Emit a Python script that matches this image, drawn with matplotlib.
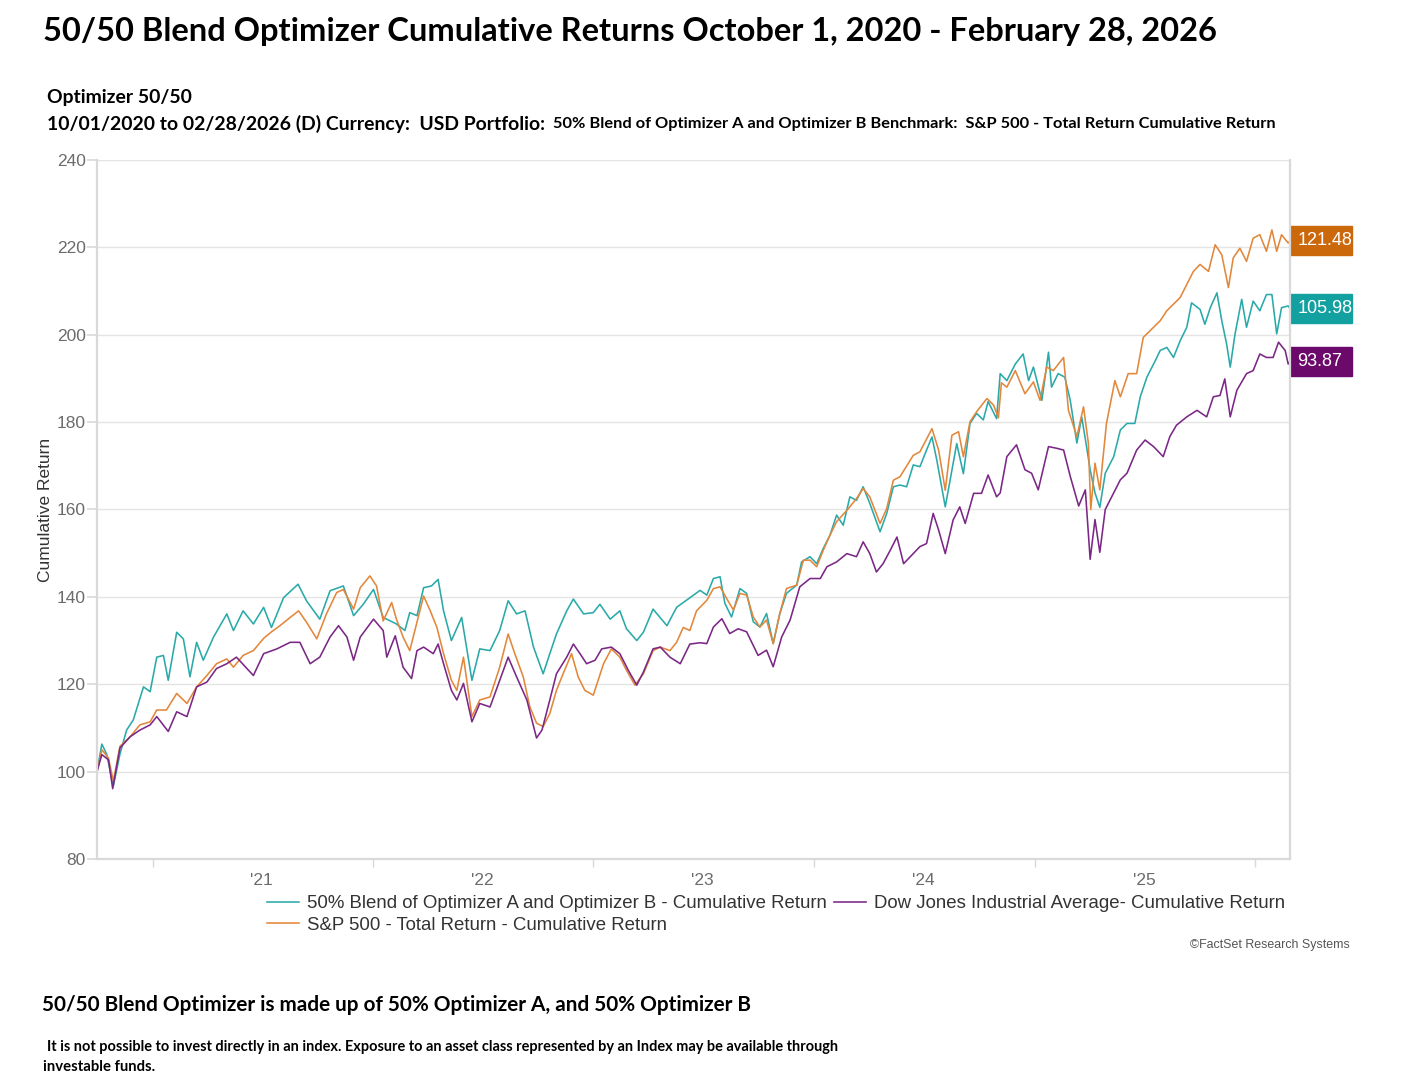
import matplotlib
matplotlib.use("Agg")
import matplotlib.pyplot as plt
import matplotlib.dates as mdates
import matplotlib.transforms as mtransforms
from matplotlib.patches import Rectangle
import numpy as np

# values, days counted from 10/01/2020
start = np.datetime64("2020-10-01")

blend_days = [0, 8, 16, 27, 38, 49, 60, 77, 88, 99, 110, 118, 132, 143, 154, 165, 176, 193, 215, 226,
              242, 259, 276, 289, 309, 333, 347, 369, 386, 408, 425, 441, 458, 474, 496, 510, 518, 530,
              541, 554, 565, 574, 587, 604, 621, 634, 651, 667, 681, 695, 709, 723, 739, 750, 761, 778,
              789, 806, 822, 833, 850, 866, 877, 894, 905, 921, 944, 960, 982, 999, 1010, 1021, 1032,
              1040, 1051, 1065, 1076, 1087, 1098, 1109, 1120, 1131, 1142, 1159, 1167, 1181, 1192, 1203,
              1214, 1225, 1236, 1247, 1258, 1269, 1280, 1291, 1297, 1308, 1319, 1330, 1341, 1352, 1363,
              1374, 1383, 1391, 1405, 1413, 1424, 1435, 1446, 1457, 1468, 1476, 1490, 1496, 1507, 1521,
              1534, 1543, 1551, 1565, 1576, 1581, 1592, 1603, 1612, 1623, 1631, 1639, 1645, 1653, 1661,
              1670, 1684, 1695, 1706, 1719, 1728, 1739, 1753, 1761, 1772, 1783, 1794, 1805, 1813, 1827,
              1835, 1844, 1855, 1863, 1871, 1877, 1885, 1896, 1904, 1915, 1926, 1937, 1946, 1954, 1962,
              1973, 1976]
blend_vals = [100, 106.3, 104, 96.7, 104, 109.5, 111.8, 119.4, 118.3, 126.2, 126.6, 120.9, 131.9, 130.4,
              121.7, 129.6, 125.5, 130.8, 136.1, 132.3, 136.8, 133.8, 137.6, 133, 139.8, 142.9, 139.1,
              134.9, 141.4, 142.5, 135.7, 138.3, 141.7, 135.3, 133.8, 132.3, 136.4, 135.7, 142.1, 142.5,
              144, 136.8, 130, 135.3, 120.9, 128.1, 127.7, 132.3, 139.1, 136.1, 136.8, 128.5, 122.4, 127,
              131.5, 136.8, 139.5, 136.1, 136.4, 138.3, 134.9, 136.8, 132.7, 130, 131.9, 137.2, 133.4,
              137.6, 139.8, 141.5, 140.4, 144.2, 144.6, 138.5, 135.4, 141.9, 140.8, 134.3, 133.1, 136.2,
              129.3, 136.2, 140.8, 142.7, 148, 149.2, 147.6, 151.1, 154.1, 158.7, 156.4, 162.9, 162.1,
              165.2, 161.4, 157.2, 154.9, 159.1, 165.2, 165.6, 165.2, 170.2, 169.8, 173.6, 176.6, 171.3,
              160.6, 166.7, 175.1, 168.2, 179.7, 182, 180.5, 184.7, 180.8, 191.1, 189.5, 193.3, 195.6,
              189.5, 192.6, 185, 196, 188, 191.1, 190.3, 185, 175.2, 181.2, 174.4, 169.1, 163.8, 160.5,
              168.3, 172.1, 178.2, 179.7, 179.7, 185.8, 190.3, 194.1, 196.4, 197.1, 194.8, 198.6, 201.7,
              207.3, 205.8, 202.4, 206.2, 209.6, 203.2, 197.9, 192.6, 200.2, 208.1, 201.7, 207.7, 205.5,
              209.2, 209.2, 200.2, 206.2, 206.6, 205.98]

spx_days = [0, 8, 19, 27, 38, 55, 71, 88, 99, 115, 132, 149, 165, 182, 198, 215, 226, 242, 259, 276,
            289, 303, 320, 334, 347, 364, 380, 397, 408, 425, 436, 452, 463, 474, 488, 496, 507, 518,
            530, 541, 552, 563, 574, 587, 596, 607, 621, 634, 651, 667, 681, 692, 706, 717, 728, 739,
            750, 761, 772, 786, 797, 808, 822, 839, 852, 866, 877, 891, 905, 921, 933, 949, 960, 971,
            982, 993, 1010, 1021, 1032, 1043, 1054, 1065, 1076, 1087, 1098, 1109, 1120, 1131, 1142,
            1159, 1170, 1181, 1192, 1203, 1214, 1225, 1242, 1258, 1269, 1280, 1297, 1308, 1319, 1330,
            1352, 1363, 1383, 1394, 1405, 1416, 1427, 1435, 1446, 1457, 1474, 1485, 1493, 1498, 1507,
            1521, 1537, 1551, 1562, 1573, 1584, 1601, 1609, 1623, 1634, 1642, 1646, 1653, 1661, 1672,
            1686, 1695, 1708, 1722, 1733, 1750, 1761, 1772, 1783, 1794, 1805, 1816, 1827, 1841, 1852,
            1863, 1874, 1882, 1893, 1904, 1915, 1926, 1937, 1946, 1954, 1962, 1973, 1976]
spx_vals = [100, 105, 103.1, 97.8, 105.8, 108, 110.7, 111.4, 114.1, 114.1, 117.9, 115.6, 119.4, 122,
            124.7, 125.8, 123.9, 126.6, 127.7, 130.5, 132, 133.4, 135.3, 136.8, 134.2, 130.4, 136.1,
            141, 141.7, 137.2, 142.1, 144.8, 142.5, 134.5, 138.7, 134.9, 130.8, 127.7, 134.2, 140.2,
            136.8, 133, 127, 120.9, 118.6, 126.2, 112.6, 116.4, 117.1, 123.9, 131.5, 127, 121.7, 114.8,
            111.1, 110.3, 113.3, 118.6, 122.4, 127, 121.7, 118.6, 117.5, 124.7, 128.1, 126.2, 123.2,
            119.8, 122.4, 127.7, 128.5, 127.7, 129.6, 133, 132.3, 136.8, 139.2, 141.9, 142.3, 139.6,
            137, 140.8, 140.4, 135.4, 133.1, 134.7, 129.3, 136.2, 141.9, 142.7, 148.4, 148.4, 146.9,
            150.7, 154.1, 157.2, 159.8, 162.5, 164.8, 162.9, 156.8, 160.2, 166.7, 167.5, 172.4, 173.2,
            178.5, 173.6, 164.4, 177, 177.8, 172.1, 180.1, 182.4, 185.4, 183.9, 181, 189, 188, 191.8,
            186.5, 189.2, 185, 192.6, 191.8, 194.8, 182.7, 176.7, 183.5, 175.2, 160, 170.6, 164.5,
            179.7, 189.5, 185.8, 191.1, 191.1, 199.4, 201.7, 203.2, 205.5, 207, 208.5, 211.5, 214.5,
            216.1, 214.5, 220.6, 218.3, 210.8, 217.6, 219.8, 216.8, 222.1, 222.9, 219.1, 224, 219.1,
            222.9, 221, 221.48]

dow_days = [0, 8, 19, 26, 38, 55, 71, 88, 99, 118, 132, 149, 165, 182, 198, 215, 231, 259, 276, 298,
            320, 336, 353, 369, 386, 400, 414, 425, 436, 458, 474, 480, 494, 507, 521, 530, 541, 557,
            565, 574, 587, 596, 607, 621, 634, 651, 667, 681, 695, 712, 728, 737, 750, 761, 778, 789,
            800, 811, 825, 836, 852, 866, 880, 894, 905, 921, 933, 949, 966, 982, 999, 1010, 1021,
            1035, 1048, 1062, 1076, 1095, 1109, 1120, 1134, 1148, 1164, 1181, 1198, 1209, 1225, 1242,
            1258, 1269, 1280, 1291, 1302, 1314, 1325, 1336, 1352, 1363, 1374, 1385, 1394, 1405, 1418,
            1429, 1438, 1452, 1465, 1476, 1490, 1496, 1507, 1523, 1537, 1548, 1559, 1576, 1590, 1601,
            1612, 1626, 1637, 1645, 1653, 1661, 1670, 1684, 1695, 1706, 1722, 1736, 1750, 1766, 1777,
            1788, 1805, 1822, 1838, 1849, 1860, 1868, 1877, 1888, 1904, 1915, 1926, 1937, 1948, 1957,
            1968, 1973, 1976]
dow_vals = [100, 103.9, 102.7, 96.1, 105.4, 108, 109.5, 110.7, 112.6, 109.2, 113.7, 112.6, 119.4, 120.5,
            123.6, 124.7, 126.2, 122, 127, 128.1, 129.6, 129.6, 124.7, 126.2, 130.8, 133.4, 130.8, 125.5,
            130.8, 134.9, 132.3, 126.2, 131.1, 123.9, 121.3, 127.7, 128.5, 127, 129.2, 124.7, 118.6,
            116.4, 120.2, 111.4, 115.6, 114.8, 120.9, 126.2, 121.7, 116.4, 107.7, 109.5, 116.4, 122.4,
            126.2, 129.2, 127, 124.7, 125.5, 128.1, 128.5, 127, 123.2, 119.8, 122.8, 128.1, 128.5, 126.2,
            124.7, 129.2, 129.5, 129.3, 133.1, 135, 131.6, 132.7, 132, 126.6, 127.8, 124, 130.8, 134.7,
            142.3, 144.2, 144.2, 146.9, 148, 149.9, 149.2, 152.6, 149.9, 145.7, 147.6, 150.7, 153.7,
            147.6, 149.9, 151.5, 152.2, 159.1, 155.3, 149.9, 157.6, 160.6, 156.8, 163.7, 163.7, 167.9,
            162.9, 163.8, 172.1, 174.8, 169.1, 168.3, 164.5, 174.4, 174, 173.6, 167.6, 160.8, 164.5,
            148.6, 157.7, 150.2, 160, 163.8, 166.8, 168.3, 173.6, 175.9, 174.4, 172.1, 176.7, 179.3,
            181.2, 182.7, 181.2, 185.8, 186.1, 189.9, 181.2, 187.3, 191.1, 191.8, 195.6, 194.8, 194.8,
            198.3, 196.4, 193.3, 193.87]

labels = ["50% Blend of Optimizer A and Optimizer B - Cumulative Return",
          "S&P 500 - Total Return - Cumulative Return",
          "Dow Jones Industrial Average- Cumulative Return"]
end_texts = ["105.98", "121.48", "93.87"]
line_colors = ["#2aa9a9", "#e2873b", "#7b2786"]
box_colors = ["#13a0a0", "#cc680c", "#6b0a6b"]
year_mids = ["2021-07-01", "2022-07-01", "2023-07-01", "2024-07-01", "2025-07-01"]
year_labels = ["'21", "'22", "'23", "'24", "'25"]

W, H = 1407, 1083
fig = plt.figure(figsize=(W / 100, H / 100), dpi=100)
ax = fig.add_axes([97 / W, 1 - 859 / H, 1193 / W, 699 / H])

series = [(blend_days, blend_vals), (spx_days, spx_vals), (dow_days, dow_vals)]
handles = []
for (d, v), c, lab in zip(series, line_colors, labels):
    dates = start + np.array(d).astype("timedelta64[D]")
    h, = ax.plot(dates, v, color=c, lw=1.15, label=lab)
    handles.append(h)

ax.set_xlim(start, np.datetime64("2026-02-28"))
ax.set_ylim(80, 240)
ax.set_yticks(np.arange(80, 241, 20))
ax.grid(axis="y", color="#e4e4e4", lw=1)
ax.set_axisbelow(True)
for s in ["left", "bottom", "right"]:
    ax.spines[s].set_color("#d9d9d9")
    ax.spines[s].set_linewidth(1.6)
ax.spines["top"].set_visible(False)

ax.xaxis.set_major_locator(mdates.YearLocator(month=1, day=1))
ax.xaxis.set_major_formatter(plt.NullFormatter())
ax.set_xticks(np.array(year_mids, dtype="datetime64[D]"), labels=year_labels, minor=True)
ax.tick_params(axis="x", which="major", length=6, color="#d9d9d9", width=1)
ax.tick_params(axis="x", which="minor", length=0, pad=10, labelsize=12.5, labelcolor="#6b6b6b")
ax.tick_params(axis="y", length=7, color="#d9d9d9", width=1.2, pad=1, labelsize=12.5, labelcolor="#6b6b6b")
for t in ax.get_xticklabels(minor=True) + ax.get_yticklabels():
    t.set_family("Liberation Sans")
ax.set_ylabel("Cumulative Return", fontsize=12.5, color="#333333", family="Liberation Sans", labelpad=3)

# end-of-line value boxes
tr = mtransforms.blended_transform_factory(ax.transAxes, ax.transData)
for (d, v), bc, txt in zip(series, box_colors, end_texts):
    ax.add_patch(Rectangle((1.0, v[-1] - 3.3), 62 / 1193, 6.6, transform=tr, color=bc, clip_on=False))
    ax.text(1.006, v[-1], txt, transform=tr, color="white", fontsize=13, ha="left", va="center",
            family="Liberation Sans")

fig.legend(handles=handles, loc="upper left", bbox_to_anchor=(258 / W, 1 - 886 / H), ncol=2,
           frameon=False, borderpad=0, handlelength=1.72, handletextpad=0.43,
           columnspacing=0.38, labelspacing=0.25, labelcolor="#333333",
           prop={"family": "Liberation Sans", "size": 13.4})

fig.text(1350 / W, 1 - 945 / H, "\u00a9FactSet Research Systems", ha="right", va="center",
         fontsize=8.9, color="#555555", family="Liberation Sans")

cal = ["Lato", "DejaVu Sans"]
texts = [
    (43, 31, 1167, "50/50 Blend Optimizer Cumulative Returns October 1, 2020 - February 28, 2026"),
    (47, 97, 144, "Optimizer 50/50"),
    (47, 124, 496, "10/01/2020 to 02/28/2026 (D) Currency:  USD Portfolio:"),
    (553, 124, 720, "50% Blend of Optimizer A and Optimizer B Benchmark:  S&P 500 - Total Return Cumulative Return"),
    (42, 1005, 707, "50/50 Blend Optimizer is made up of 50% Optimizer A, and 50% Optimizer B"),
    (47, 1047, 786, "It is not possible to invest directly in an index. Exposure to an asset class represented by an Index may be available through"),
    (43, 1067, 111, "investable funds."),
]
objs = []
for x, y, w, s in texts:
    objs.append((fig.text(x / W, 1 - y / H, s, ha="left", va="center", fontsize=12,
                          fontweight="bold", family=cal, color="black"), w))

fig.canvas.draw()
r = fig.canvas.get_renderer()
for t, w in objs:
    bb = t.get_window_extent(r)
    t.set_fontsize(t.get_fontsize() * w / bb.width)

fig.savefig("out.png", dpi=100)
